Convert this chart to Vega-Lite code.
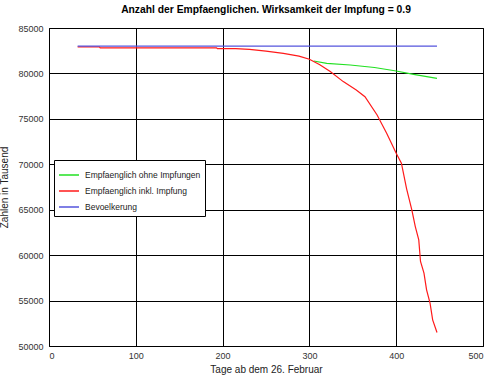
{
  "$schema": "https://vega.github.io/schema/vega-lite/v6.json",
  "width": 434,
  "height": 318,
  "autosize": {"type": "none"},
  "padding": {"left": 49, "top": 28, "right": 17, "bottom": 29},
  "background": "white",
  "config": {
    "font": "Liberation Sans",
    "view": {"stroke": "black", "strokeWidth": 1}
  },
  "title": {
    "text": "Anzahl der Empfaenglichen. Wirksamkeit der Impfung = 0.9",
    "fontSize": 10.3,
    "fontWeight": "bold",
    "font": "Liberation Sans",
    "color": "black",
    "anchor": "middle",
    "offset": 9
  },
  "data": {
    "values": [
      {"series": "Empfaenglich ohne Impfungen", "day": 305, "value": 81370},
      {"series": "Empfaenglich ohne Impfungen", "day": 320, "value": 81100},
      {"series": "Empfaenglich ohne Impfungen", "day": 347, "value": 80930},
      {"series": "Empfaenglich ohne Impfungen", "day": 375, "value": 80650},
      {"series": "Empfaenglich ohne Impfungen", "day": 400, "value": 80270},
      {"series": "Empfaenglich ohne Impfungen", "day": 420, "value": 79900},
      {"series": "Empfaenglich ohne Impfungen", "day": 447, "value": 79450},

      {"series": "Empfaenglich inkl. Impfung", "day": 33, "value": 82920},
      {"series": "Empfaenglich inkl. Impfung", "day": 58, "value": 82920},
      {"series": "Empfaenglich inkl. Impfung", "day": 59, "value": 82820},
      {"series": "Empfaenglich inkl. Impfung", "day": 193, "value": 82820},
      {"series": "Empfaenglich inkl. Impfung", "day": 194, "value": 82730},
      {"series": "Empfaenglich inkl. Impfung", "day": 215, "value": 82720},
      {"series": "Empfaenglich inkl. Impfung", "day": 231, "value": 82650},
      {"series": "Empfaenglich inkl. Impfung", "day": 250, "value": 82450},
      {"series": "Empfaenglich inkl. Impfung", "day": 270, "value": 82210},
      {"series": "Empfaenglich inkl. Impfung", "day": 288, "value": 81900},
      {"series": "Empfaenglich inkl. Impfung", "day": 300, "value": 81560},
      {"series": "Empfaenglich inkl. Impfung", "day": 312, "value": 80950},
      {"series": "Empfaenglich inkl. Impfung", "day": 324, "value": 80200},
      {"series": "Empfaenglich inkl. Impfung", "day": 339, "value": 79100},
      {"series": "Empfaenglich inkl. Impfung", "day": 354, "value": 78180},
      {"series": "Empfaenglich inkl. Impfung", "day": 364, "value": 77440},
      {"series": "Empfaenglich inkl. Impfung", "day": 378, "value": 75430},
      {"series": "Empfaenglich inkl. Impfung", "day": 389, "value": 73420},
      {"series": "Empfaenglich inkl. Impfung", "day": 400, "value": 71220},
      {"series": "Empfaenglich inkl. Impfung", "day": 406, "value": 70120},
      {"series": "Empfaenglich inkl. Impfung", "day": 412, "value": 67300},
      {"series": "Empfaenglich inkl. Impfung", "day": 418, "value": 64980},
      {"series": "Empfaenglich inkl. Impfung", "day": 422, "value": 63140},
      {"series": "Empfaenglich inkl. Impfung", "day": 426, "value": 61680},
      {"series": "Empfaenglich inkl. Impfung", "day": 428, "value": 59300},
      {"series": "Empfaenglich inkl. Impfung", "day": 432, "value": 58020},
      {"series": "Empfaenglich inkl. Impfung", "day": 435, "value": 56180},
      {"series": "Empfaenglich inkl. Impfung", "day": 439, "value": 54720},
      {"series": "Empfaenglich inkl. Impfung", "day": 442, "value": 52880},
      {"series": "Empfaenglich inkl. Impfung", "day": 447, "value": 51480},

      {"series": "Bevoelkerung", "day": 33, "value": 83000},
      {"series": "Bevoelkerung", "day": 447, "value": 83000}
    ]
  },
  "mark": {"type": "line", "strokeWidth": 1.2, "interpolate": "linear"},
  "encoding": {
    "x": {
      "field": "day",
      "type": "quantitative",
      "scale": {"domain": [0, 500], "nice": false, "zero": false},
      "axis": {
        "title": "Tage ab dem 26. Februar",
        "values": [0, 100, 200, 300, 400, 500],
        "grid": true,
        "gridColor": "black",
        "gridOpacity": 1,
        "gridWidth": 1,
        "domain": false,
        "ticks": false,
        "labelPadding": 5,
        "labelFontSize": 9,
        "labelColor": "#333333",
        "labelFont": "Liberation Sans",
        "titleFontSize": 10,
        "titleFontWeight": "normal",
        "titleColor": "#222222",
        "titleFont": "Liberation Sans",
        "titlePadding": 4
      }
    },
    "y": {
      "field": "value",
      "type": "quantitative",
      "scale": {"domain": [50000, 85000], "nice": false, "zero": false},
      "axis": {
        "title": "Zahlen in Tausend",
        "values": [50000, 55000, 60000, 65000, 70000, 75000, 80000, 85000],
        "format": "d",
        "grid": true,
        "gridColor": "black",
        "gridOpacity": 1,
        "gridWidth": 1,
        "domain": false,
        "ticks": false,
        "labelPadding": 6,
        "labelFontSize": 9,
        "labelColor": "#333333",
        "labelFont": "Liberation Sans",
        "titleFontSize": 10,
        "titleFontWeight": "normal",
        "titleColor": "#222222",
        "titleFont": "Liberation Sans",
        "titlePadding": 8
      }
    },
    "color": {
      "field": "series",
      "type": "nominal",
      "sort": null,
      "scale": {
        "domain": ["Empfaenglich ohne Impfungen", "Empfaenglich inkl. Impfung", "Bevoelkerung"],
        "range": ["#22e022", "#ff1a1a", "#5555dd"]
      },
      "legend": {
        "title": null,
        "orient": "none",
        "legendX": 5,
        "legendY": 132,
        "direction": "vertical",
        "fillColor": "white",
        "strokeColor": "black",
        "padding": 4,
        "symbolType": "stroke",
        "symbolSize": 400,
        "symbolStrokeWidth": 1.5,
        "symbolOffset": 0,
        "rowPadding": -2,
        "labelFontSize": 8.5,
        "labelColor": "#222222",
        "labelFont": "Liberation Sans",
        "labelOffset": 5,
        "labelLimit": 300
      }
    }
  }
}
